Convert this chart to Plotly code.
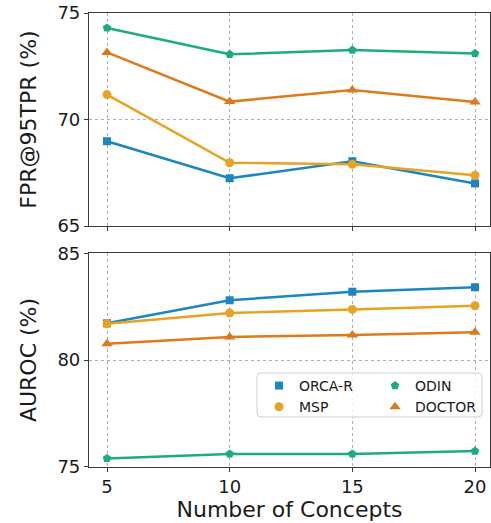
import plotly.graph_objects as go

concepts = [5, 10, 15, 20]
methods = ["ORCA-R", "MSP", "ODIN", "DOCTOR"]
fpr = {
    "ORCA-R": [68.98, 67.24, 68.04, 67.0],
    "ODIN": [74.3, 73.06, 73.26, 73.1],
    "MSP": [71.17, 67.97, 67.9, 67.38],
    "DOCTOR": [73.15, 70.84, 71.38, 70.82],
}
auroc = {
    "ORCA-R": [81.72, 82.8, 83.2, 83.41],
    "ODIN": [75.39, 75.6, 75.6, 75.73],
    "MSP": [81.7, 82.2, 82.37, 82.54],
    "DOCTOR": [80.76, 81.08, 81.17, 81.3],
}
colors = {"ORCA-R": "#1a86c2", "ODIN": "#1bac86", "MSP": "#e6a422", "DOCTOR": "#df7a1a"}
symbols = {"ORCA-R": "square", "ODIN": "pentagon", "MSP": "circle", "DOCTOR": "triangle-up"}
sizes = {"ORCA-R": 8, "ODIN": 9, "MSP": 9, "DOCTOR": 10}
legend_of = {"ORCA-R": "legend", "MSP": "legend", "ODIN": "legend2", "DOCTOR": "legend2"}

W, H = 491, 523
fig = go.Figure()

for m in methods:
    for data, xa, ya in [(fpr, "x", "y"), (auroc, "x2", "y2")]:
        fig.add_trace(go.Scatter(
            x=concepts, y=data[m], mode="lines", xaxis=xa, yaxis=ya,
            line=dict(color=colors[m], width=2.5), showlegend=False, hoverinfo="skip"))
        fig.add_trace(go.Scatter(
            x=concepts, y=data[m], mode="markers", xaxis=xa, yaxis=ya, name=m,
            marker=dict(color=colors[m], symbol=symbols[m], size=sizes[m]),
            legend=legend_of[m], showlegend=(ya == "y2")))

px_per = (475 - 107) / 15.0
x0 = 5 - (107 - 89) / px_per
x1 = 20 + (490 - 475) / px_per
xdom = [89 / W, 490 / W]

font = dict(family="DejaVu Sans", color="#1a1a1a")
axcommon = dict(showline=True, mirror=True, linecolor="#3a3a3a", linewidth=1.2,
                ticks="outside", ticklen=4, tickcolor="#3a3a3a", automargin=False,
                showgrid=True, gridcolor="#b0b0b0", griddash="dot", gridwidth=0.8,
                zeroline=False, tickfont=dict(size=18, family="DejaVu Sans", color="#1a1a1a"))

legcommon = dict(orientation="v", xanchor="left", yanchor="top", y=1 - 370 / H,
                 bgcolor="rgba(0,0,0,0)", borderwidth=0, tracegroupgap=0,
                 font=dict(size=14, family="DejaVu Sans", color="#1a1a1a"))

# rounded legend frame
bx0, bx1, by0, by1, r = 257 / W, 482 / W, 1 - 417 / H, 1 - 373 / H, 4
rx, ry = r / W, r / H
frame = (f"M {bx0+rx},{by1} L {bx1-rx},{by1} Q {bx1},{by1} {bx1},{by1-ry} "
         f"L {bx1},{by0+ry} Q {bx1},{by0} {bx1-rx},{by0} L {bx0+rx},{by0} "
         f"Q {bx0},{by0} {bx0},{by0+ry} L {bx0},{by1-ry} Q {bx0},{by1} {bx0+rx},{by1} Z")

fig.update_layout(
    width=W, height=H, margin=dict(l=0, r=0, t=0, b=0),
    plot_bgcolor="white", paper_bgcolor="white", font=font,
    xaxis=dict(domain=xdom, range=[x0, x1], tickvals=concepts, showticklabels=False,
               anchor="y", **axcommon),
    yaxis=dict(domain=[1 - 226 / H, 1 - 13 / H], range=[65, 75], tickvals=[65, 70, 75],
               anchor="x", title=dict(text="FPR@95TPR (%)", font=dict(size=22), standoff=14),
               **axcommon),
    xaxis2=dict(domain=xdom, range=[x0, x1], tickvals=concepts, anchor="y2",
                title=dict(text="Number of Concepts", font=dict(size=22), standoff=5),
                **axcommon),
    yaxis2=dict(domain=[1 - 466.7 / H, 1 - 253.3 / H], range=[75, 85], tickvals=[75, 80, 85],
                anchor="x2", title=dict(text="AUROC (%)", font=dict(size=22), standoff=14),
                **axcommon),
    legend=dict(x=259 / W, **legcommon),
    legend2=dict(x=375 / W, **legcommon),
    shapes=[dict(type="path", path=frame, xref="paper", yref="paper", layer="above",
                 fillcolor="rgba(255,255,255,0.8)", line=dict(color="#d0d0d0", width=1))],
)

fig.write_html("out.html", config={"displayModeBar": False},
               post_script="document.body.style.margin='0';")
